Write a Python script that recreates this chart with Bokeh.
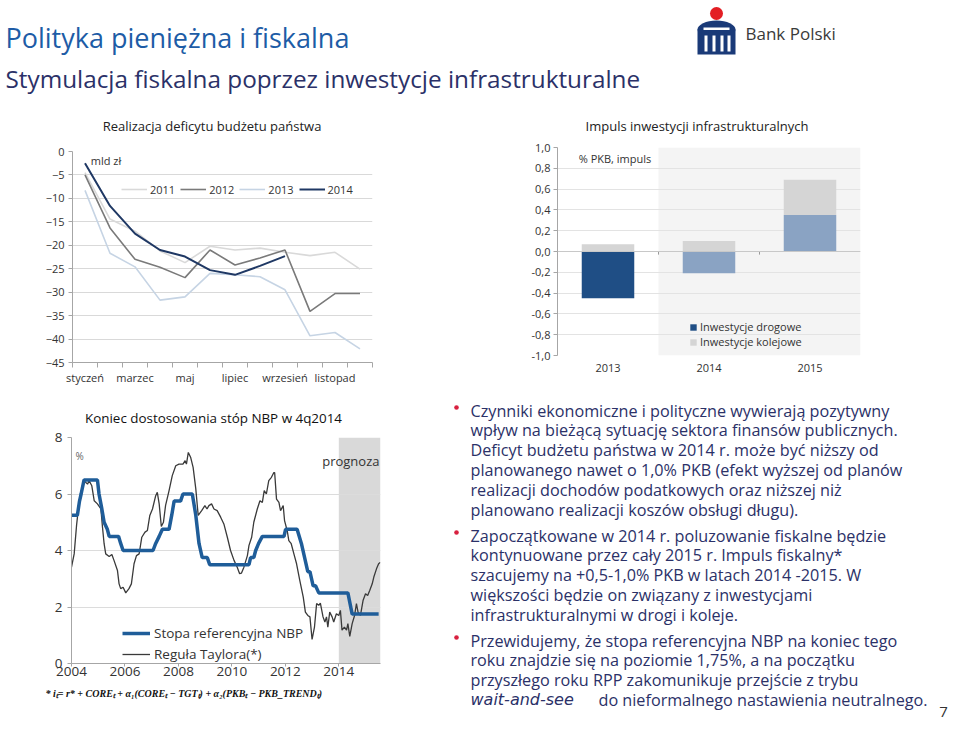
from bokeh.plotting import figure
from bokeh.layouts import column, row
from bokeh.models import (Range1d, FixedTicker, Legend, LegendItem, Label, BoxAnnotation,
                          Spacer, CustomJSTickFormatter, ColumnDataSource, Span)
from bokeh.core.properties import value
from bokeh.embed import file_html
from bokeh.resources import INLINE

FONT = "Open Sans"
TXT = "#2b3168"

# ---------------- data: deficit (mld zł) ----------------
month_names = ["styczeń", "luty", "marzec", "kwiecień", "maj", "czerwiec", "lipiec",
               "sierpień", "wrzesień", "październik", "listopad", "grudzień"]
deficit_2011 = [-4.5, -14.4, -17.0, -21.2, -23.7, -20.2, -21.0, -20.6, -21.5, -22.2, -21.5, -25.1]
deficit_2012 = [-5.0, -16.3, -23.0, -24.7, -26.9, -21.0, -24.2, -22.7, -21.0, -34.1, -30.3, -30.3]
deficit_2013 = [-8.3, -21.7, -24.6, -31.7, -31.0, -26.0, -26.3, -26.7, -29.5, -39.3, -38.6, -42.1]
deficit_2014 = [-2.5, -11.6, -17.5, -21.0, -22.4, -25.3, -26.3, -24.4, -22.3]
deficit_ticks = [0, -5, -10, -15, -20, -25, -30, -35, -40, -45]

# ---------------- data: infrastructure impulse (% PKB) ----------------
bar_years = ["2013", "2014", "2015"]
road_invest = [-0.45, -0.21, 0.35]
rail_invest = [0.07, 0.10, 0.34]
impulse_ticks = [-1.0, -0.8, -0.6, -0.4, -0.2, 0.0, 0.2, 0.4, 0.6, 0.8, 1.0]

# ---------------- data: NBP rate vs Taylor rule (%) ----------------
nbp_years = [2004.00, 2004.22, 2004.30, 2004.36, 2004.47, 2004.97, 2005.03, 2005.13, 2005.22,
             2005.34, 2005.41, 2005.76, 2005.84, 2005.93, 2007.05, 2007.15, 2007.28, 2007.40,
             2007.65, 2007.75, 2007.84, 2008.08, 2008.17, 2008.52, 2008.65, 2008.77, 2008.89,
             2009.08, 2009.17, 2010.64, 2010.70, 2010.82, 2010.89, 2011.00, 2011.14, 2011.95,
             2012.01, 2012.44, 2012.60, 2012.84, 2012.92, 2013.04, 2013.13, 2013.25, 2014.34,
             2014.50, 2015.49]
nbp_rate = [5.25, 5.25, 5.75, 6.0, 6.5, 6.5, 6.0, 5.5, 5.0,
            4.75, 4.5, 4.5, 4.25, 4.0, 4.0, 4.25, 4.5, 4.75,
            4.75, 5.25, 5.75, 5.75, 6.0, 6.0, 5.25, 4.25, 3.75,
            3.75, 3.5, 3.5, 3.75, 3.75, 4.0, 4.25, 4.5, 4.5,
            4.75, 4.75, 4.25, 3.25, 3.25, 2.75, 2.75, 2.5, 2.5,
            1.75, 1.75]
taylor_years = [2004.00, 2004.10, 2004.19, 2004.29, 2004.41, 2004.47, 2004.60, 2004.66, 2004.76,
                2004.85, 2004.97, 2005.10, 2005.16, 2005.22, 2005.28, 2005.41, 2005.51, 2005.59,
                2005.72, 2005.78, 2005.84, 2005.93, 2006.03, 2006.15, 2006.24, 2006.34, 2006.43,
                2006.53, 2006.63, 2006.75, 2006.84, 2006.93, 2007.03, 2007.15, 2007.21, 2007.28,
                2007.36, 2007.44, 2007.52, 2007.65, 2007.77, 2007.90, 2008.02, 2008.17, 2008.25,
                2008.30, 2008.37, 2008.46, 2008.55, 2008.65, 2008.74, 2008.87, 2008.99, 2009.07,
                2009.14, 2009.24, 2009.33, 2009.45, 2009.58, 2009.70, 2009.83, 2009.95, 2010.08,
                2010.20, 2010.29, 2010.36, 2010.45, 2010.58, 2010.64, 2010.74, 2010.82, 2010.95,
                2011.05, 2011.14, 2011.21, 2011.29, 2011.38, 2011.48, 2011.57, 2011.60, 2011.67,
                2011.76, 2011.82, 2011.92, 2011.97, 2012.07, 2012.13, 2012.22, 2012.32, 2012.42,
                2012.54, 2012.67, 2012.75, 2012.84, 2012.92, 2013.00, 2013.09, 2013.17, 2013.25,
                2013.31, 2013.41, 2013.48, 2013.54, 2013.59, 2013.66, 2013.75, 2013.81, 2013.91,
                2014.00, 2014.06, 2014.12, 2014.21, 2014.29, 2014.34, 2014.41, 2014.50, 2014.59,
                2014.66, 2014.72, 2014.81, 2014.91, 2015.00, 2015.08, 2015.16, 2015.25, 2015.31,
                2015.41, 2015.49, 2015.55]
taylor_rate = [3.41, 3.88, 4.90, 5.76, 6.29, 6.47, 6.35, 6.47, 6.29,
               5.76, 5.65, 5.47, 4.82, 4.24, 3.88, 3.79, 3.86, 3.65,
               3.29, 2.82, 2.65, 2.70, 2.50, 2.65, 2.82, 3.53, 3.82,
               3.88, 4.47, 4.65, 4.71, 5.24, 5.47, 5.94, 6.06, 5.65,
               4.85, 5.00, 5.60, 6.12, 6.65, 7.00, 7.06, 7.06, 7.18,
               7.06, 7.47, 7.29, 6.94, 6.18, 5.24, 5.41, 5.59, 5.47,
               5.59, 5.65, 5.47, 5.41, 5.18, 4.94, 4.47, 4.00, 3.65,
               3.41, 3.18, 3.20, 3.41, 3.82, 4.18, 4.47, 5.00, 5.47,
               5.76, 5.70, 6.12, 6.00, 6.47, 6.59, 6.76, 6.76, 5.82,
               5.70, 5.41, 5.59, 5.06, 4.70, 4.35, 4.24, 3.88, 3.53,
               2.94, 2.35, 1.82, 1.70, 1.65, 0.85, 1.29, 2.12, 2.06,
               2.14, 1.65, 1.47, 1.65, 1.29, 1.82, 1.65, 1.47, 1.76,
               1.70, 1.88, 1.18, 1.29, 1.18, 1.41, 0.96, 1.41, 1.70,
               2.12, 1.82, 1.70, 2.24, 2.47, 2.41, 2.59, 2.82, 3.06,
               3.35, 3.53, 3.58]
rate_ticks = [0, 2, 4, 6, 8]
year_ticks = [2004, 2006, 2008, 2010, 2012, 2014]
forecast_start = 2014.0

# ---------------- text ----------------
bullets = [
    ["Czynniki ekonomiczne i polityczne wywierają pozytywny",
     "wpływ na bieżącą sytuację sektora finansów publicznych.",
     "Deficyt budżetu państwa w 2014 r. może być niższy od",
     "planowanego nawet o 1,0% PKB (efekt wyższej od planów",
     "realizacji dochodów podatkowych oraz niższej niż",
     "planowano realizacji koszów obsługi długu)."],
    ["Zapoczątkowane w 2014 r. poluzowanie fiskalne będzie",
     "kontynuowane przez cały 2015 r. Impuls fiskalny*",
     "szacujemy na +0,5-1,0% PKB w latach 2014 -2015. W",
     "większości będzie on związany z inwestycjami",
     "infrastrukturalnymi w drogi i koleje."],
    ["Przewidujemy, że stopa referencyjna NBP na koniec tego",
     "roku znajdzie się na poziomie 1,75%, a na początku",
     "przyszłego roku RPP zakomunikuje przejście z trybu"],
]
last_italic = "wait-and-see"
last_rest = "do nieformalnego nastawienia neutralnego."


def canvas(x0, x1, y0, y1):
    p = figure(width=int(x1 - x0), height=int(y1 - y0), x_range=Range1d(x0, x1),
               y_range=Range1d(y1, y0), output_backend="svg", toolbar_location=None,
               min_border=0, x_axis_location=None, y_axis_location=None)
    p.grid.visible = False
    p.outline_line_color = None
    return p


def put_text(p, x, y, t, size, color="#222222", align="left", style="normal", font=FONT):
    p.text(x=[x], y=[y], text=[t], text_font=value(font), text_font_size=value(size),
           text_color=color, text_align=align, text_baseline="middle", text_font_style=style)


def style_axes(p, size):
    for ax in p.axis:
        ax.major_label_text_font = FONT
        ax.major_label_text_font_size = size
        ax.major_label_text_color = "#333333"
        ax.axis_line_color = "#a6a6a6"
        ax.major_tick_line_color = "#a6a6a6"
        ax.minor_tick_line_color = None
        ax.major_tick_in = 0
        ax.major_tick_out = 4
    p.outline_line_color = None


# ================= header =================
head = canvas(0, 952, 0, 100)
put_text(head, 5, 37, "Polityka pieniężna i fiskalna", "27px", "#1d5ca6")
put_text(head, 5, 78, "Stymulacja fiskalna poprzez inwestycje infrastrukturalne", "24.3px", TXT)
head.ellipse(x=[716], y=[29], width=[38], height=[18], fill_color="#1a3a78", line_color=None)
head.quad(left=[697], right=[735], top=[29], bottom=[54], fill_color="#1a3a78", line_color=None)
head.quad(left=[704, 712, 720, 727], right=[707, 715, 723, 730], top=[35, 35, 35, 35],
          bottom=[51, 51, 51, 51], fill_color="white", line_color=None)
head.quad(left=[703], right=[729], top=[27], bottom=[29.5], fill_color="white", line_color=None)
head.circle(x=[716], y=[13], radius=6.5, fill_color="#e31e24", line_color=None)
put_text(head, 745, 33, "Bank Polski", "17px", "#3a3a3a")

# ================= chart A: deficit =================
tA = canvas(0, 380, 100, 140)
put_text(tA, 211.5, 125, "Realizacja deficytu budżetu państwa", "13px", "#222222", "center")
pA = figure(width=380, height=252, x_range=Range1d(0, 12), y_range=Range1d(-45, 0),
            output_backend="svg", toolbar_location=None,
            min_border_left=72, min_border_right=8, min_border_top=11, min_border_bottom=30)
style_axes(pA, "11px")
xa = [i + 0.5 for i in range(len(month_names))]
r11 = pA.line(xa, deficit_2011, line_color="#d9d9d9", line_width=1.6)
r12 = pA.line(xa, deficit_2012, line_color="#7a7a7a", line_width=1.6)
r13 = pA.line(xa, deficit_2013, line_color="#c6d4e4", line_width=1.6)
r14 = pA.line(xa[:len(deficit_2014)], deficit_2014, line_color="#1f3864", line_width=2)
pA.yaxis.ticker = FixedTicker(ticks=deficit_ticks)
pA.ygrid.ticker = FixedTicker(ticks=deficit_ticks)
pA.ygrid.grid_line_color = "#d9d9d9"
pA.xgrid.visible = False
lab_idx = list(range(0, len(month_names), 2))
pA.xaxis.ticker = FixedTicker(ticks=[xa[i] for i in lab_idx],
                              minor_ticks=list(range(len(month_names) + 1)))
pA.xaxis.major_label_overrides = {xa[i]: month_names[i] for i in lab_idx}
pA.xaxis.major_tick_line_color = None
pA.xaxis.minor_tick_line_color = "#a6a6a6"
pA.xaxis.minor_tick_in = 0
pA.xaxis.minor_tick_out = 5
pA.xaxis.major_label_standoff = 2
pA.yaxis.major_label_standoff = 4
legA = Legend(items=[LegendItem(label="2011", renderers=[r11]),
                     LegendItem(label="2012", renderers=[r12]),
                     LegendItem(label="2013", renderers=[r13]),
                     LegendItem(label="2014", renderers=[r14])],
              orientation="horizontal", location=(49, 165), padding=0, margin=0,
              spacing=5, glyph_width=26, glyph_height=16, label_height=16, label_standoff=3,
              label_text_font=FONT, label_text_font_size="11px", label_text_color="#333333",
              background_fill_alpha=0, border_line_color=None)
pA.add_layout(legA)
pA.add_layout(Label(x=0.73, y=-2.0, text="mld zł", text_font=FONT, text_font_size="11px",
                    text_color="#333333", text_baseline="middle"))

# ================= chart B: impulse =================
tB = canvas(510, 868, 100, 138)
put_text(tB, 696.5, 125, "Impuls inwestycji infrastrukturalnych", "13px", "#222222", "center")
pB = figure(width=358, height=254, x_range=Range1d(0, len(bar_years)), y_range=Range1d(-1, 1),
            output_backend="svg", toolbar_location=None,
            min_border_left=47, min_border_right=8, min_border_top=9, min_border_bottom=37)
style_axes(pB, "11px")
pB.add_layout(BoxAnnotation(left=1, fill_color="#f4f4f4", fill_alpha=1, line_color=None,
                            level="image"))
xb = [i + 0.5 for i in range(len(bar_years))]
road_colors = ["#1f4e85", "#8aa3c3", "#8aa3c3"]
srcB = ColumnDataSource(dict(
    x=xb, road=road_invest,
    rail_bottom=[max(r, 0) for r in road_invest],
    rail_top=[max(r, 0) + k for r, k in zip(road_invest, rail_invest)],
    road_color=road_colors))
rRoad = pB.vbar(x="x", top="road", bottom=0, width=0.52, fill_color="road_color",
                line_color=None, source=srcB)
rRail = pB.vbar(x="x", bottom="rail_bottom", top="rail_top", width=0.52, fill_color="#d5d5d5",
                line_color=None, source=srcB)
pB.add_layout(Span(location=0, dimension="width", line_color="#c8c8c8", line_width=1))
bnd = list(range(1, len(bar_years)))
pB.segment(x0=bnd, x1=bnd, y0=[0] * len(bnd), y1=[-0.03] * len(bnd), line_color="#999999")
pB.yaxis.ticker = FixedTicker(ticks=impulse_ticks)
pB.ygrid.ticker = FixedTicker(ticks=impulse_ticks)
pB.ygrid.grid_line_color = "#e3e3e3"
pB.yaxis.formatter = CustomJSTickFormatter(code="return tick.toFixed(1).replace('.', ',');")
pB.yaxis.major_label_standoff = 3
pB.xgrid.visible = False
pB.xaxis.ticker = FixedTicker(ticks=xb)
pB.xaxis.major_label_overrides = {xb[i]: bar_years[i] for i in range(len(bar_years))}
pB.xaxis.axis_line_color = None
pB.xaxis.major_tick_line_color = None
pB.xaxis.major_label_standoff = 4
legB = Legend(items=[LegendItem(label="Inwestycje drogowe", renderers=[rRoad], index=0),
                     LegendItem(label="Inwestycje kolejowe", renderers=[rRail], index=0)],
              location=(132, 6), padding=0, margin=0, spacing=0, glyph_width=8, glyph_height=8,
              label_height=15, label_standoff=3, label_text_font=FONT,
              label_text_font_size="11px", label_text_color="#333333",
              background_fill_alpha=0, border_line_color=None)
pB.add_layout(legB)
pB.add_layout(Label(x=0.21, y=0.89, text="% PKB, impuls", text_font=FONT, text_font_size="11px",
                    text_color="#333333", text_baseline="middle"))

# ================= chart C: NBP vs Taylor =================
tC = canvas(0, 400, 392, 428)
put_text(tC, 213, 417.5, "Koniec dostosowania stóp NBP w 4q2014", "13.4px", "#111111", "center")
pC = figure(width=400, height=257, x_range=Range1d(2004, 2015.56), y_range=Range1d(0, 8),
            output_backend="svg", toolbar_location=None,
            min_border_left=71, min_border_right=20, min_border_top=9, min_border_bottom=22)
style_axes(pC, "13.5px")
pC.add_layout(BoxAnnotation(left=forecast_start, fill_color="#d9d9d9", fill_alpha=1,
                            line_color=None, level="image"))
rT = pC.line(taylor_years, taylor_rate, line_color="#3a3a3a", line_width=1.3)
rN = pC.line(nbp_years, nbp_rate, line_color="#1f5d99", line_width=3.5)
pC.yaxis.ticker = FixedTicker(ticks=rate_ticks)
pC.ygrid.ticker = FixedTicker(ticks=rate_ticks)
pC.ygrid.grid_line_color = "#dcdcdc"
pC.xgrid.visible = False
pC.xaxis.ticker = FixedTicker(ticks=year_ticks)
pC.xaxis.major_tick_out = 3
pC.xaxis.major_label_standoff = 0
pC.yaxis.major_label_standoff = 5
legC = Legend(items=[LegendItem(label="Stopa referencyjna NBP", renderers=[rN]),
                     LegendItem(label="Reguła Taylora(*)", renderers=[rT])],
              location=(51, -1), padding=0, margin=0, spacing=1, glyph_width=28,
              glyph_height=20, label_height=20, label_standoff=4, label_text_font=FONT,
              label_text_font_size="13.5px", label_text_color="#333333",
              background_fill_alpha=0, border_line_color=None)
pC.add_layout(legC)
pC.add_layout(Label(x=2014.45, y=7.17, text="prognoza", text_font=FONT, text_font_size="13px",
                    text_color="#333333", text_align="center", text_baseline="middle"))
pC.add_layout(Label(x=2004.15, y=7.35, text="%", text_font=FONT, text_font_size="10px",
                    text_color="#666666", text_baseline="middle"))
fC = canvas(0, 400, 685, 725)
put_text(fC, 45, 693, "* iₜ= r* + COREₜ + α₁(COREₜ − TGTₜ) + α₂(PKBₜ − PKB_TRENDₜ)",
         "10px", "#111111", "left", "bold italic", "Liberation Serif")

# ================= text panel =================
tp = canvas(400, 952, 392, 725)
starts = [410, 535, 640]
step = 19.8
for b, lines in enumerate(bullets):
    y0 = starts[b]
    tp.circle(x=[456], y=[y0 - 3], radius=2.3, fill_color="#d8203f", line_color=None)
    tp.text(x=[470] * len(lines), y=[y0 + i * step for i in range(len(lines))], text=lines,
            text_font=value(FONT), text_font_size=value("16.2px"), text_color=TXT,
            text_baseline="middle")
yl = starts[2] + 3 * step
put_text(tp, 470, yl, last_italic, "16px", TXT, "left", "italic", "DejaVu Sans")
put_text(tp, 598, yl, last_rest, "16.2px", TXT)
put_text(tp, 943, 711, "7", "15px", "#333333", "center")

layout = column(
    column(head),
    row(column(column(tA), column(pA)), Spacer(width=130, height=292),
        column(column(tB), column(pB)), Spacer(width=84, height=292)),
    row(column(column(tC), column(pC), column(fC)), column(tp)),
)

open("out.html", "w").write(file_html(layout, INLINE))
